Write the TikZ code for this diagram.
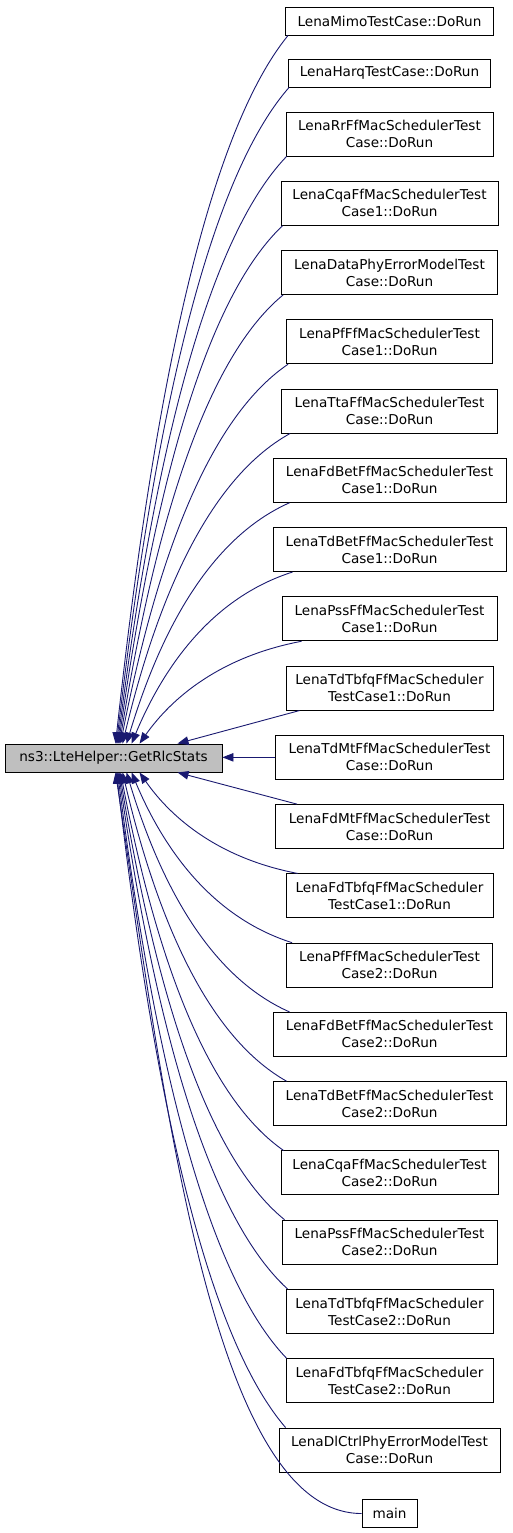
\documentclass[tikz,border=0pt]{standalone}
\usepackage{fontspec}
\setmainfont{DejaVu Sans}
\usetikzlibrary{arrows.meta,calc}
\definecolor{edgeblue}{RGB}{25,25,112}
\definecolor{hlgray}{RGB}{191,191,191}
\tikzset{
  box/.style={draw=black, line width=0.9pt, fill=white, inner sep=0pt, align=center,
    font=\fontsize{13.6}{17}\selectfont, minimum height=44pt},
  onebox/.style={box, minimum height=28pt},
  mainbox/.style={draw=black, line width=0.9pt, fill=hlgray, inner sep=0pt,
    font=\fontsize{13.6}{17}\selectfont, minimum height=28pt, minimum width=217pt},
  edge/.style={draw=edgeblue, line width=0.9pt, -{Triangle[length=11pt,width=8.5pt]}},
}
\newcommand\cedge[6]{%
  \draw[edge] let \p1=(#1), \p2=(#2) in (\p1) .. controls
    ({\x1-#3*(\x1-\x2)},{\y1-#4*(\y1-\y2)}) and
    ({\x2+#5*(\x1-\x2)},{\y2+#6*(\y1-\y2)}) .. (\p2);}
\begin{document}
\begin{tikzpicture}[x=1pt,y=-1pt]
\useasboundingbox (0,0) rectangle (512,1533);
\node[mainbox] (c) at (113.5,758) {ns3::LteHelper::GetRlcStats};
\node[onebox, minimum width=208pt] (n1) at (389.5,21) {LenaMimoTestCase::DoRun};
\node[onebox, minimum width=202pt] (n2) at (389.5,73) {LenaHarqTestCase::DoRun};
\node[box, minimum width=207pt] (n3) at (389.5,134) {LenaRrFfMacSchedulerTest\\Case::DoRun};
\node[box, minimum width=217pt] (n4) at (389.5,203.26) {LenaCqaFfMacSchedulerTest\\Case1::DoRun};
\node[box, minimum width=216pt] (n5) at (389.5,272.52) {LenaDataPhyErrorModelTest\\Case::DoRun};
\node[box, minimum width=206pt] (n6) at (389.5,341.78) {LenaPfFfMacSchedulerTest\\Case1::DoRun};
\node[box, minimum width=216pt] (n7) at (389.5,411.04) {LenaTtaFfMacSchedulerTest\\Case::DoRun};
\node[box, minimum width=233pt] (n8) at (389.5,480.3) {LenaFdBetFfMacSchedulerTest\\Case1::DoRun};
\node[box, minimum width=233pt] (n9) at (389.5,549.56) {LenaTdBetFfMacSchedulerTest\\Case1::DoRun};
\node[box, minimum width=215pt] (n10) at (389.5,618.82) {LenaPssFfMacSchedulerTest\\Case1::DoRun};
\node[box, minimum width=207pt] (n11) at (389.5,688.08) {LenaTdTbfqFfMacScheduler\\TestCase1::DoRun};
\node[box, minimum width=228pt] (n12) at (389.5,757.34) {LenaTdMtFfMacSchedulerTest\\Case::DoRun};
\node[box, minimum width=228pt] (n13) at (389.5,826.6) {LenaFdMtFfMacSchedulerTest\\Case::DoRun};
\node[box, minimum width=207pt] (n14) at (389.5,895.86) {LenaFdTbfqFfMacScheduler\\TestCase1::DoRun};
\node[box, minimum width=206pt] (n15) at (389.5,965.12) {LenaPfFfMacSchedulerTest\\Case2::DoRun};
\node[box, minimum width=233pt] (n16) at (389.5,1034.38) {LenaFdBetFfMacSchedulerTest\\Case2::DoRun};
\node[box, minimum width=233pt] (n17) at (389.5,1103.64) {LenaTdBetFfMacSchedulerTest\\Case2::DoRun};
\node[box, minimum width=217pt] (n18) at (389.5,1172.9) {LenaCqaFfMacSchedulerTest\\Case2::DoRun};
\node[box, minimum width=215pt] (n19) at (389.5,1242.16) {LenaPssFfMacSchedulerTest\\Case2::DoRun};
\node[box, minimum width=207pt] (n20) at (389.5,1311.42) {LenaTdTbfqFfMacScheduler\\TestCase2::DoRun};
\node[box, minimum width=207pt] (n21) at (389.5,1380.68) {LenaFdTbfqFfMacScheduler\\TestCase2::DoRun};
\node[box, minimum width=221pt] (n22) at (389.5,1449.94) {LenaDlCtrlPhyErrorModelTest\\Case::DoRun};
\node[onebox, minimum width=55pt] (n23) at (389.5,1513.5) {main};
% upper edges
\cedge{[xshift=3pt]n1.south west}{[xshift=111pt]c.north west}{0.5}{0.15}{0.2}{0.45}
\cedge{[xshift=1pt]n2.south west}{[xshift=112pt]c.north west}{0.5}{0.15}{0.2}{0.45}
\cedge{[xshift=1pt]n3.south west}{[xshift=113pt]c.north west}{0.5}{0.15}{0.2}{0.45}
\cedge{[xshift=2pt]n4.south west}{[xshift=114pt]c.north west}{0.5}{0.15}{0.2}{0.45}
\cedge{[xshift=2pt]n5.south west}{[xshift=115pt]c.north west}{0.5}{0.15}{0.2}{0.45}
\cedge{[xshift=2pt]n6.south west}{[xshift=116pt]c.north west}{0.5}{0.15}{0.2}{0.45}
\cedge{[xshift=9pt]n7.south west}{[xshift=118pt]c.north west}{0.5}{0.15}{0.2}{0.45}
\cedge{[xshift=17pt]n8.south west}{[xshift=122pt]c.north west}{0.5}{0.15}{0.2}{0.45}
\cedge{[xshift=20pt]n9.south west}{[xshift=127pt]c.north west}{0.5}{0.15}{0.2}{0.45}
\cedge{[xshift=20pt]n10.south west}{[xshift=135pt]c.north west}{0.5}{0.15}{0.2}{0.45}
\draw[edge] ([xshift=14pt]n11.south west) -- ([xshift=173pt]c.north west);
\draw[edge] (n12.west) -- (c.east |- n12.west);
\draw[edge] ([xshift=22pt]n13.north west) -- ([xshift=173pt]c.south west);
% lower edges
\cedge{[xshift=12pt]n14.north west}{[xshift=135pt]c.south west}{0.5}{0.15}{0.2}{0.45}
\cedge{[xshift=6pt]n15.north west}{[xshift=127pt]c.south west}{0.5}{0.15}{0.2}{0.45}
\cedge{[xshift=17pt]n16.north west}{[xshift=122pt]c.south west}{0.5}{0.15}{0.2}{0.45}
\cedge{[xshift=14pt]n17.north west}{[xshift=118pt]c.south west}{0.5}{0.15}{0.2}{0.45}
\cedge{[xshift=3pt]n18.north west}{[xshift=116pt]c.south west}{0.5}{0.15}{0.2}{0.45}
\cedge{[xshift=3pt]n19.north west}{[xshift=115pt]c.south west}{0.5}{0.15}{0.2}{0.45}
\cedge{[xshift=2pt]n20.north west}{[xshift=114pt]c.south west}{0.5}{0.15}{0.2}{0.45}
\cedge{[xshift=1pt]n21.north west}{[xshift=113pt]c.south west}{0.5}{0.15}{0.2}{0.45}
\cedge{[xshift=7pt]n22.north west}{[xshift=112pt]c.south west}{0.5}{0.15}{0.2}{0.45}
\cedge{n23.west}{[xshift=111pt]c.south west}{0.6}{0}{0.2}{0.45}
\end{tikzpicture}
\end{document}
